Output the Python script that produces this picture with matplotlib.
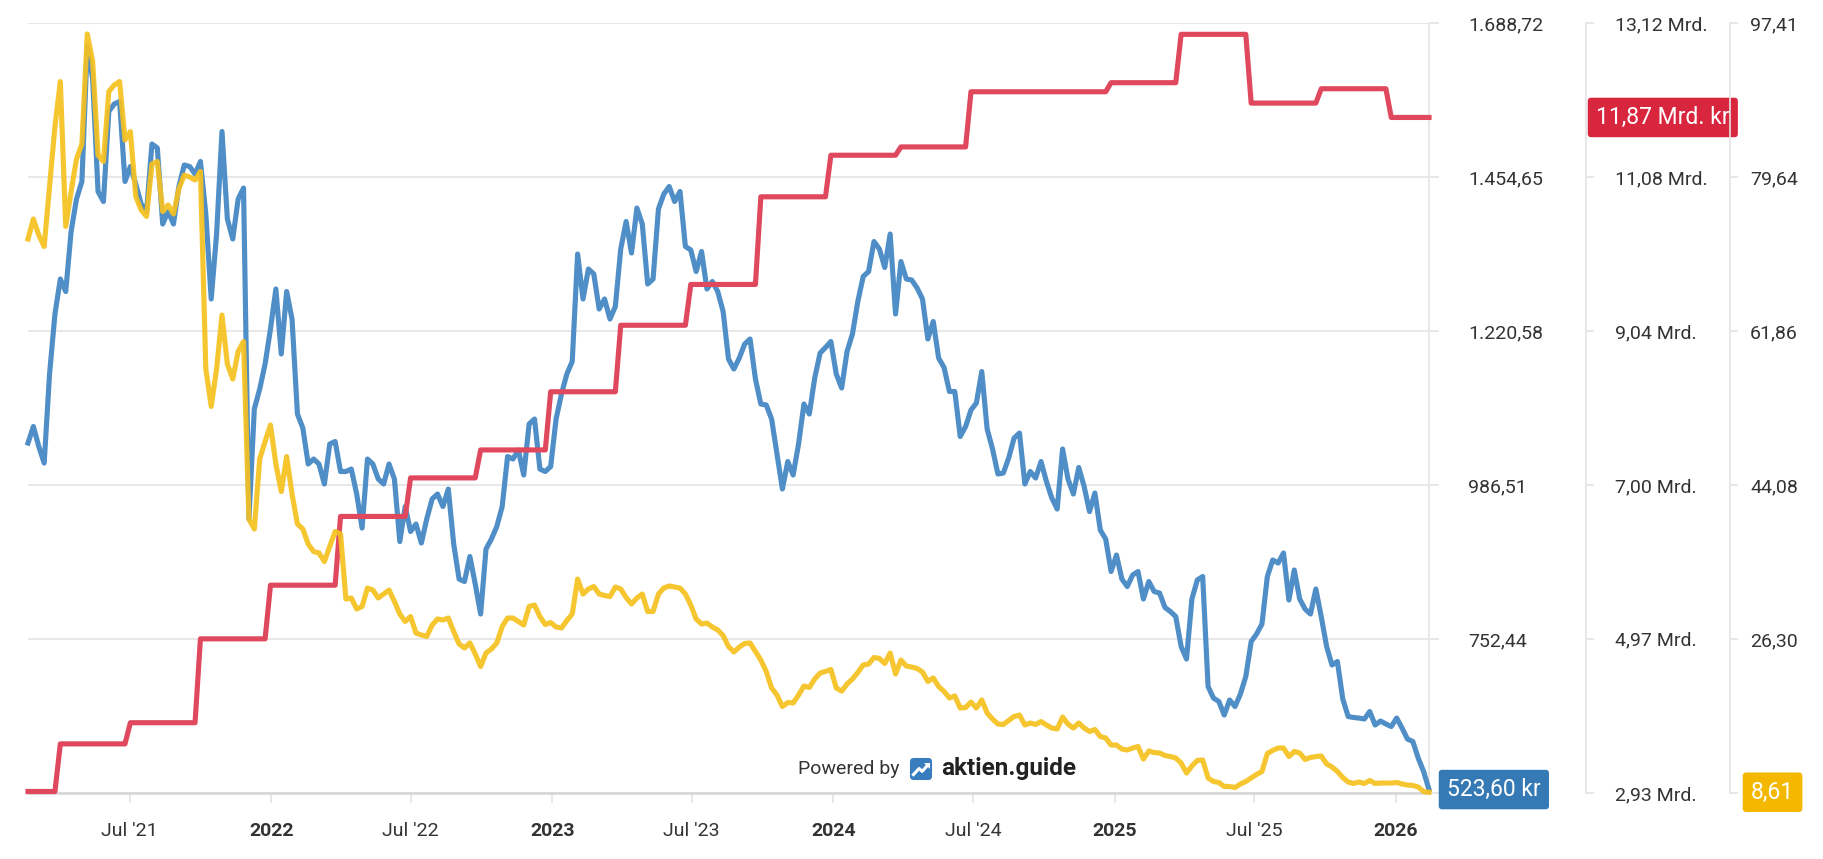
import matplotlib
matplotlib.use("Agg")
import matplotlib.pyplot as plt
import matplotlib.transforms as mtransforms
from matplotlib.patches import FancyBboxPatch
import pandas as pd

plt.rcParams["font.family"] = ["Roboto", "DejaVu Sans"]

# weekly closes, last one on END_DATE
END_DATE = "2026-02-13"

# share price (kr), left scale
PRICE = [
    1050.3, 1075.4, 1045.0, 1019.9, 1155.2, 1246.4, 1299.6, 1280.6, 1371.8, 1421.2,
    1447.8, 1653.0, 1603.6, 1432.6, 1417.4, 1554.2, 1565.6, 1569.4, 1447.8, 1470.6,
    1444.0, 1413.6, 1402.2, 1504.8, 1498.7, 1383.2, 1402.2, 1383.2, 1440.2, 1472.9,
    1470.6, 1459.2, 1478.2, 1398.4, 1269.2, 1368.0, 1523.8, 1390.8, 1360.4, 1421.2,
    1437.9, 934.8, 1102.0, 1132.4, 1170.4, 1223.6, 1284.4, 1185.6,
    1280.6, 1238.8, 1094.4, 1073.1, 1018.4, 1026.0, 1018.4, 988.0, 1048.8, 1052.6,
    1007.0, 1007.0, 1010.8, 972.8, 921.1, 1026.0, 1018.4, 995.6, 988.0, 1018.4,
    995.6, 900.6, 953.8, 915.8, 927.2, 898.3, 934.8, 965.2, 972.8, 953.8,
    980.4, 896.8, 843.6, 839.8, 877.8, 836.0, 790.4, 889.2, 904.4, 923.4,
    953.8, 1029.8, 1026.0, 1039.7, 1001.7, 1079.2,
    1086.8, 1010.8, 1007.0, 1014.6, 1086.8, 1124.8, 1155.2, 1174.2, 1337.6, 1269.2,
    1314.8, 1307.2, 1254.0, 1269.2, 1238.8, 1257.8, 1345.2, 1387.0, 1339.1, 1407.5,
    1383.2, 1292.0, 1299.6, 1406.0, 1428.8, 1440.2, 1417.4, 1432.6, 1349.0, 1343.7,
    1311.0, 1341.4, 1284.4, 1295.8, 1280.6, 1250.2, 1178.0, 1162.8, 1179.5, 1200.8,
    1208.4, 1147.6, 1109.6, 1108.1, 1086.8, 1033.6,
    980.4, 1022.2, 1001.7, 1048.8, 1109.6, 1094.4, 1149.1, 1187.1, 1195.5, 1204.6,
    1155.2, 1133.9, 1189.4, 1216.0, 1265.4, 1303.4, 1311.0, 1356.6, 1345.2, 1317.1,
    1368.0, 1246.4, 1326.2, 1299.6, 1298.1, 1285.9, 1269.2, 1208.4, 1235.0, 1179.5,
    1165.1, 1128.6, 1128.6, 1060.2, 1075.4, 1100.5, 1111.1, 1159.0, 1071.6, 1041.2,
    1003.2, 1004.7, 1027.5, 1057.9, 1065.5, 988.0,
    1007.0, 997.1, 1022.2, 991.8, 966.7, 950.0, 1041.2, 995.6, 972.8, 1013.1,
    984.2, 946.2, 974.3, 918.1, 904.4, 855.0, 880.1, 843.6, 832.2, 849.7,
    855.0, 813.2, 839.8, 824.6, 822.3, 800.3, 794.2, 786.6, 741.0, 722.0,
    813.2, 842.1, 847.4, 680.2, 662.7, 657.4, 636.9, 659.7, 649.8, 668.8,
    695.4, 748.6, 760.0, 775.2, 847.4, 872.5,
    867.9, 883.1, 811.7, 857.3, 813.2, 798.0, 790.4, 828.4, 786.6, 741.0,
    712.9, 718.2, 661.2, 634.6, 633.1, 632.3, 630.8, 642.2, 621.7, 627.8,
    623.2, 619.4, 632.3, 617.1, 600.4, 596.6, 571.5, 551.0, 523.6,
]

# valuation ratio, far right scale
RATIO = [
    72.47, 74.78, 72.93, 71.61, 78.53, 85.46, 90.65, 73.92, 77.96, 81.71,
    83.44, 96.14, 92.96, 82.17, 81.42, 89.50, 90.25, 90.65, 83.90, 84.88,
    77.38, 75.82, 75.07, 81.13, 81.42, 75.65, 76.40, 75.36, 78.25, 79.86,
    79.63, 79.28, 80.27, 57.47, 53.14, 57.47, 63.70, 58.04, 56.31, 59.49,
    60.64, 40.15, 39.00, 47.08, 49.10, 51.00, 46.50, 43.32,
    47.36, 43.04, 39.57, 39.00, 37.26, 36.40, 36.23, 35.24, 36.98, 38.71,
    38.42, 30.91, 31.03, 29.76, 30.05, 32.18, 31.95, 31.03, 31.49, 31.95,
    30.63, 29.18, 28.32, 28.89, 26.99, 26.76, 26.59, 27.91, 28.61, 28.49,
    28.72, 27.16, 25.72, 25.26, 25.84, 24.57, 23.12, 24.68, 25.14, 25.84,
    27.74, 28.72, 28.72, 28.32, 27.91, 30.05,
    30.22, 28.89, 27.97, 28.20, 27.68, 27.57, 28.43, 29.18, 33.22, 31.49,
    32.07, 32.36, 31.49, 31.32, 31.20, 32.30, 32.07, 31.09, 30.34, 31.03,
    31.49, 29.47, 29.47, 31.49, 32.18, 32.42, 32.30, 32.18, 31.49, 30.22,
    28.61, 28.03, 28.14, 27.68, 27.34, 26.70, 25.43, 24.80, 25.37, 25.78,
    25.84, 24.85, 23.87, 22.55, 20.64, 19.83,
    18.50, 18.97, 18.91, 19.83, 20.87, 20.70, 21.68, 22.37, 22.55, 22.78,
    20.64, 20.29, 21.10, 21.68, 22.43, 23.30, 23.41, 24.16, 24.05, 23.47,
    24.68, 22.26, 23.87, 23.18, 23.06, 22.89, 22.49, 21.39, 21.80, 20.81,
    20.24, 19.49, 19.72, 18.33, 18.39, 19.02, 18.33, 19.26, 17.75, 17.06,
    16.48, 16.43, 16.89, 17.35, 17.52, 16.37,
    16.60, 16.43, 16.77, 16.37, 16.02, 15.91, 17.29, 16.48, 16.02, 16.60,
    16.02, 15.62, 15.85, 15.04, 14.87, 14.06, 14.06, 13.60, 13.48, 13.71,
    13.89, 12.44, 13.37, 13.19, 13.14, 12.85, 12.73, 12.56, 11.98, 10.83,
    11.64, 12.27, 12.33, 10.25, 9.85, 9.73, 9.27, 9.27, 9.15, 9.56,
    9.85, 10.25, 10.66, 11.00, 13.08, 13.43,
    13.71, 13.71, 12.73, 13.31, 13.14, 12.39, 12.62, 12.73, 12.79, 11.87,
    11.52, 11.00, 10.31, 9.79, 9.62, 9.79, 9.62, 9.96, 9.62, 9.67,
    9.67, 9.67, 9.73, 9.56, 9.44, 9.39, 9.21, 8.69, 8.61,
]

# revenue (Mrd. kr), quarterly levels, middle scale
REV_START = [
    "2021-02-19", "2021-04-02", "2021-07-02", "2021-10-01", "2021-12-31",
    "2022-04-01", "2022-07-01", "2022-09-30", "2022-12-30", "2023-03-31",
    "2023-06-30", "2023-09-29", "2023-12-29", "2024-03-29", "2024-06-28",
    "2024-12-27", "2025-03-28", "2025-06-27", "2025-09-26", "2025-12-26",
]
REV = [
    2.95, 3.58, 3.86, 4.97, 5.68,
    6.59, 7.10, 7.47, 8.24, 9.12,
    9.66, 10.82, 11.37, 11.48, 12.21,
    12.33, 12.97, 12.06, 12.25, 11.87,
]

PRICE_TICKS = [518.37, 752.44, 986.51, 1220.58, 1454.65, 1688.72]
PRICE_LABELS = ["", "752,44", "986,51", "1.220,58", "1.454,65", "1.688,72"]
REV_TICKS = [2.93, 4.97, 7.00, 9.04, 11.08, 13.12]
REV_LABELS = ["2,93 Mrd.", "4,97 Mrd.", "7,00 Mrd.", "9,04 Mrd.", "11,08 Mrd.", "13,12 Mrd."]
RATIO_TICKS = [8.52, 26.30, 44.08, 61.86, 79.64, 97.41]
RATIO_LABELS = ["", "26,30", "44,08", "61,86", "79,64", "97,41"]

X_TICKS = ["2021-07-01", "2022-01-01", "2022-07-01", "2023-01-01", "2023-07-01",
           "2024-01-01", "2024-07-01", "2025-01-01", "2025-07-01", "2026-01-01"]
X_LABELS = ["Jul '21", "2022", "Jul '22", "2023", "Jul '23",
            "2024", "Jul '24", "2025", "Jul '25", "2026"]

C_PRICE = "#4f8ec6"
C_REV = "#e0485e"
C_RATIO = "#f6c11f"
B_PRICE = "#3579b5"
B_REV = "#d9263f"
B_RATIO = "#f4b800"
GRID = "#e4e4e4"
TXT = "#333333"
LW = 3.7


def de(v):
    return f"{v:,.2f}".replace(",", "X").replace(".", ",").replace("X", ".")


dates = pd.date_range(end=END_DATE, periods=len(PRICE), freq="7D")

# revenue as flat segments between reporting dates
starts = pd.to_datetime(REV_START)
rev_x, rev_y = [], []
for i, v in enumerate(REV):
    end = starts[i + 1] - pd.Timedelta(days=7) if i + 1 < len(starts) else dates[-1]
    rev_x += [starts[i], end]
    rev_y += [v, v]

W, H = 1823, 859
AX_L, AX_W = 28, 1401
fig = plt.figure(figsize=(W / 100, H / 100), dpi=100)
ax = fig.add_axes([AX_L / W, (H - 793) / H, AX_W / W, 770 / H])


def frac(px):
    # figure pixel column -> axes fraction
    return (px - AX_L) / AX_W


ax.plot(dates, PRICE, color=C_PRICE, lw=LW, clip_on=False, zorder=3)
ax.set_xlim(dates[0], dates[-1])
ax.set_ylim(PRICE_TICKS[0], PRICE_TICKS[-1])

ax_rev = ax.twinx()
ax_rev.plot(rev_x, rev_y, color=C_REV, lw=LW, clip_on=False)
ax_rev.set_ylim(REV_TICKS[0], REV_TICKS[-1])
ax_rev.set_yticks(REV_TICKS, REV_LABELS)
ax_rev.spines["right"].set_position(("axes", frac(1586)))

ax_rat = ax.twinx()
ax_rat.plot(dates, RATIO, color=C_RATIO, lw=LW, alpha=0.92, clip_on=False)
ax_rat.set_ylim(RATIO_TICKS[0], RATIO_TICKS[-1])
ax_rat.set_yticks(RATIO_TICKS, RATIO_LABELS)
ax_rat.spines["right"].set_position(("axes", frac(1730)))

# twinx moves the host ticks to the left, put them back on the right
ax.yaxis.tick_right()
ax.set_yticks(PRICE_TICKS, PRICE_LABELS)
ax.grid(axis="y", color=GRID, lw=1.2)
ax.set_axisbelow(True)
ax.tick_params(axis="y", left=False, labelleft=False, right=True, labelright=True,
               length=7, width=1.2, color=GRID, pad=21, labelsize=14, labelcolor=TXT)
ax.set_xticks(pd.to_datetime(X_TICKS), X_LABELS)
ax.tick_params(axis="x", length=7, width=1.2, color=GRID, pad=14,
               labelsize=14, labelcolor=TXT)
for lbl in ax.get_xticklabels():
    if not lbl.get_text().startswith("Jul"):
        lbl.set_fontweight("bold")
for s in ("left", "top"):
    ax.spines[s].set_visible(False)
ax.spines["right"].set_color(GRID)
ax.spines["right"].set_linewidth(1.2)
ax.spines["bottom"].set_color("#d8d8d8")
ax.spines["bottom"].set_linewidth(2)

for a, pad in ((ax_rev, 15), (ax_rat, 8.5)):
    for s in ("left", "top", "bottom"):
        a.spines[s].set_visible(False)
    a.spines["right"].set_color(GRID)
    a.spines["right"].set_linewidth(1.2)
    a.tick_params(axis="y", length=6, width=1.2, color=GRID, pad=pad,
                  labelsize=14, labelcolor=TXT)


# last-value badges
def badge(a, xpos, y, text, color):
    tr = mtransforms.blended_transform_factory(ax.transAxes, a.transData)
    a.text(xpos, y, text, transform=tr, ha="left", va="center", color="white",
           fontsize=16.5, family=["Liberation Sans Narrow", "Roboto"],
           clip_on=False, zorder=10,
           bbox=dict(boxstyle="round,pad=0.36,rounding_size=0.15", fc=color, ec="none"))


badge(ax, frac(1447), PRICE[-1], de(PRICE[-1]) + " kr", B_PRICE)
badge(ax_rev, frac(1596), REV[-1], de(REV[-1]) + " Mrd. kr", B_REV)
badge(ax_rat, frac(1751), RATIO[-1], de(RATIO[-1]), B_RATIO)

# watermark
fig.text(798 / W, 1 - 769 / H, "Powered by", fontsize=14, color=TXT, va="center")
logo = fig.add_axes([909 / W, 1 - 781 / H, 24 / W, 24 / H])
logo.set_xlim(0, 1)
logo.set_ylim(0, 1)
logo.axis("off")
logo.add_patch(FancyBboxPatch((0.04, 0.04), 0.92, 0.92,
                              boxstyle="round,pad=0,rounding_size=0.16",
                              fc="#3a7dbf", ec="none"))
logo.plot([0.14, 0.42, 0.55, 0.78], [0.22, 0.52, 0.40, 0.66],
          color="white", lw=2.2, solid_capstyle="butt")
logo.fill([0.64, 0.86, 0.86], [0.74, 0.74, 0.52], color="white", lw=0)
fig.text(941 / W, 1 - 769 / H, "aktien.guide", fontsize=17.5, fontweight="bold",
         color="#222222", va="center")

fig.savefig("out.png", dpi=100, facecolor="white")
